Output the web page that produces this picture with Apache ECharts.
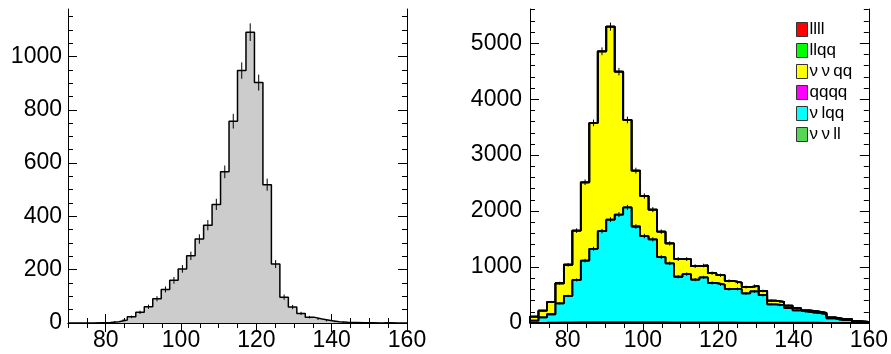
<!DOCTYPE html>
<html>
<head>
<meta charset="utf-8">
<script src="https://cdn.jsdelivr.net/npm/echarts@6.0.0/dist/echarts.min.js"></script>
<style>
  html, body { margin: 0; padding: 0; background: #fff; }
  #chart { width: 891px; height: 354px; }
</style>
</head>
<body>
<div id="chart"></div>
<script>
// binning shared by both histograms
const xMin = 70, xMax = 160, binWidth = 2.25;
const xTickLabels = [80, 100, 120, 140, 160];
const leftYTicks = [0, 200, 400, 600, 800, 1000];
const rightYTicks = [0, 1000, 2000, 3000, 4000, 5000];

// left panel: single histogram
const leftCounts = [0, 0, 0, 1, 2, 5, 11, 23, 40, 61, 91, 126, 160, 203, 252, 315, 367, 445, 567, 757,
  947, 1091, 902, 519, 221, 97, 60, 36, 22, 15, 9, 5, 3, 2, 1, 1, 0, 1, 0, 0];

// right panel: stacked components
const llll = [0, 0, 0, 0, 0, 0, 0, 0, 0, 0, 0, 0, 0, 0, 0, 0, 0, 0, 0, 0,
  0, 0, 0, 0, 0, 0, 0, 0, 0, 0, 0, 0, 0, 0, 0, 0, 0, 0, 0, 0];
const llqq = [0, 0, 0, 0, 0, 0, 0, 0, 0, 0, 0, 0, 0, 0, 0, 0, 0, 0, 0, 0,
  0, 0, 0, 0, 0, 0, 0, 0, 0, 0, 0, 0, 0, 0, 0, 0, 0, 0, 0, 0];
const vvqq = [71, 120, 220, 360, 557, 882, 1400, 2250, 3214, 3450, 2554, 1563, 998, 715, 532, 454, 356, 316, 268, 240,
  213, 176, 167, 149, 114, 115, 97, 75, 65, 60, 43, 38, 27, 26, 20, 15, 21, 16, 11, 8];
const qqqq = [0, 0, 0, 0, 0, 0, 0, 0, 0, 0, 0, 0, 0, 0, 0, 0, 0, 0, 0, 0,
  0, 0, 0, 0, 0, 0, 0, 0, 0, 0, 0, 0, 0, 0, 0, 0, 0, 0, 0, 0];
const vlqq = [41, 95, 148, 340, 472, 755, 1100, 1310, 1625, 1830, 1922, 2050, 1710, 1540, 1480, 1165, 1055, 815, 863, 765,
  805, 705, 678, 595, 600, 520, 558, 490, 327, 312, 262, 222, 193, 176, 158, 80, 50, 55, 19, 10];
const vvll = [3, 5, 8, 10, 12, 14, 15, 16, 17, 17, 16, 16, 15, 14, 14, 13, 12, 12, 11, 11,
  10, 10, 9, 9, 8, 8, 8, 7, 7, 6, 6, 5, 5, 5, 4, 4, 3, 3, 2, 2];

const font = "'Liberation Sans', Arial, Helvetica, sans-serif";
const plain = (v) => String(v);

function ticks(from, to, step) {
  const out = [];
  for (let v = from; v <= to + 1e-9; v += step) out.push(v);
  return out;
}

// four x axes per grid: bottom minor+labels, bottom major, top minor, top major
function xAxesFor(gridIndex) {
  const minor = ticks(xMin, xMax, 5);
  const base = { type: "value", gridIndex, min: xMin, max: xMax, splitLine: { show: false } };
  const tickStyle = { color: "#000", width: 1 };
  return [
    { ...base, position: "bottom",
      axisLine: { show: true, lineStyle: { color: "#000", width: 1 } },
      axisTick: { show: true, inside: true, length: 5, customValues: minor, lineStyle: tickStyle },
      axisLabel: { show: true, customValues: xTickLabels, formatter: plain, color: "#000", fontSize: 23, fontFamily: font, margin: 6 } },
    { ...base, position: "bottom", axisLine: { show: false },
      axisTick: { show: true, inside: true, length: 9, customValues: xTickLabels, lineStyle: tickStyle },
      axisLabel: { show: false } },
    { ...base, position: "top",
      axisLine: { show: true, lineStyle: { color: "#000", width: 1 } },
      axisTick: { show: true, inside: true, length: 5, customValues: minor, lineStyle: tickStyle },
      axisLabel: { show: false } },
    { ...base, position: "top", axisLine: { show: false },
      axisTick: { show: true, inside: true, length: 9, customValues: xTickLabels, lineStyle: tickStyle },
      axisLabel: { show: false } },
  ];
}

function yAxesFor(gridIndex, max, majors, minorStep, margin) {
  const minor = ticks(0, max, minorStep);
  const base = { type: "value", gridIndex, min: 0, max, splitLine: { show: false } };
  const tickStyle = { color: "#000", width: 1 };
  return [
    { ...base, position: "left",
      axisLine: { show: true, lineStyle: { color: "#000", width: 1 } },
      axisTick: { show: true, inside: true, length: 5, customValues: minor, lineStyle: tickStyle },
      axisLabel: { show: true, customValues: majors, formatter: plain, color: "#000", fontSize: 23, fontFamily: font, margin } },
    { ...base, position: "left", axisLine: { show: false },
      axisTick: { show: true, inside: true, length: 9, customValues: majors, lineStyle: tickStyle },
      axisLabel: { show: false } },
    { ...base, position: "right",
      axisLine: { show: true, lineStyle: { color: "#000", width: 1 } },
      axisTick: { show: true, inside: true, length: 5, customValues: minor, lineStyle: tickStyle },
      axisLabel: { show: false } },
    { ...base, position: "right", axisLine: { show: false },
      axisTick: { show: true, inside: true, length: 9, customValues: majors, lineStyle: tickStyle },
      axisLabel: { show: false } },
  ];
}

// histogram outline as a step line through the bin edges
function stepData(values) {
  const pts = [[xMin, 0]];
  values.forEach((v, i) => pts.push([xMin + binWidth * i, v]));
  pts.push([xMax, values[values.length - 1]]);
  pts.push([xMax, 0]);
  return pts;
}

function histSeries(name, values, fill, axisIdx, lineWidth) {
  return {
    name, type: "line", step: "end", xAxisIndex: axisIdx, yAxisIndex: axisIdx,
    data: stepData(values), symbol: "none", silent: true,
    color: fill,
    itemStyle: { color: fill },
    lineStyle: { color: "#000", width: lineWidth },
    areaStyle: { color: fill, opacity: 1 },
  };
}

function errorSeries(values, axisIdx) {
  return {
    type: "custom", xAxisIndex: axisIdx, yAxisIndex: axisIdx, silent: true, z: 5,
    data: values.map((v, i) => [xMin + binWidth * (i + 0.5), v]),
    renderItem: (params, api) => {
      const x = api.value(0), v = api.value(1);
      if (v <= 0) return null;
      const e = Math.sqrt(v);
      const p1 = api.coord([x, v - e]);
      const p2 = api.coord([x, v + e]);
      return {
        type: "line",
        shape: { x1: p1[0], y1: p1[1], x2: p2[0], y2: p2[1] },
        style: { stroke: "#000", lineWidth: 1 },
      };
    },
  };
}

// stack bottom -> top
const layers = [
  { name: "ν\u2009ν\u2009ll", data: vvll, color: "#55d755" },
  { name: "ν\u2009lqq", data: vlqq, color: "#00ffff" },
  { name: "qqqq", data: qqqq, color: "#ff00ff" },
  { name: "ν\u2009ν\u2009qq", data: vvqq, color: "#ffff00" },
  { name: "llqq", data: llqq, color: "#00ff00" },
  { name: "llll", data: llll, color: "#ff0000" },
];
let running = new Array(leftCounts.length).fill(0);
layers.forEach((l) => {
  running = running.map((s, i) => s + l.data[i]);
  l.cum = running.slice();
});

const R = 4; // first axis index of right panel
const rightSeries = layers.slice().reverse().map((l) => histSeries(l.name, l.cum, l.color, R, 1.8));

const chart = echarts.init(document.getElementById("chart"));
chart.setOption({
  animation: false,
  backgroundColor: "#fff",
  grid: [
    { left: 68, top: 9, width: 339, height: 314 },
    { left: 530, top: 9, width: 339, height: 314 },
  ],
  xAxis: [...xAxesFor(0), ...xAxesFor(1)],
  yAxis: [...yAxesFor(0, 1178, leftYTicks, 50, 6), ...yAxesFor(1, 5612, rightYTicks, 200, 8)],
  legend: {
    orient: "vertical",
    left: 796,
    top: 21,
    padding: 0,
    icon: "rect",
    itemWidth: 11,
    itemHeight: 14,
    itemGap: 4,
    selectedMode: false,
    data: ["llll", "llqq", "ν\u2009ν\u2009qq", "qqqq", "ν\u2009lqq", "ν\u2009ν\u2009ll"],
    itemStyle: { borderColor: "#333", borderWidth: 1 },
    textStyle: { color: "#000", fontSize: 17, fontFamily: font, padding: [0, 0, 0, -3] },
  },
  series: [
    histSeries("all", leftCounts, "#cccccc", 0, 1.5),
    errorSeries(leftCounts, 0),
    ...rightSeries,
    errorSeries(layers[5].cum, R),
    errorSeries(layers[1].cum, R),
  ],
});
</script>
</body>
</html>
